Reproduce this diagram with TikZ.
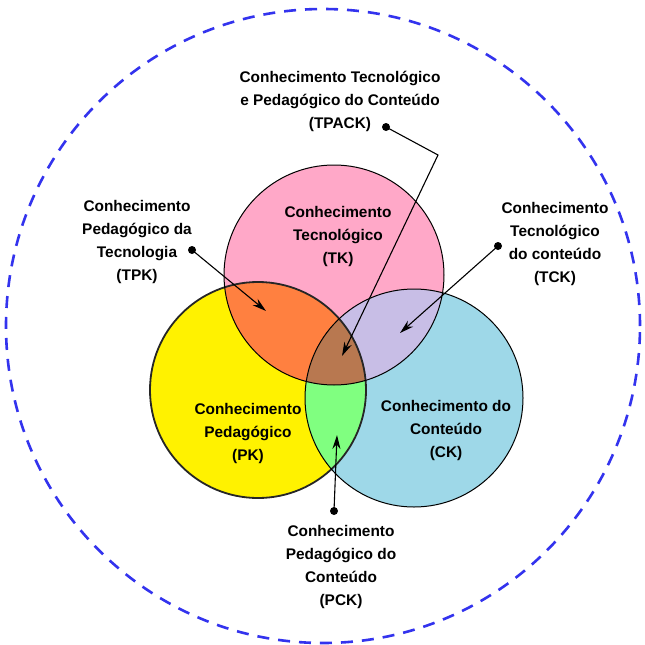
\documentclass[tikz,border=0pt]{standalone}
\usepackage{fontspec}
\setmainfont{Liberation Sans}
\usetikzlibrary{arrows.meta}
\definecolor{tkc}{HTML}{FFA8C8}
\definecolor{pkc}{HTML}{FFF200}
\definecolor{ckc}{HTML}{9ED8E8}
\definecolor{tpkc}{HTML}{FF8040}
\definecolor{tckc}{HTML}{C8BEE6}
\definecolor{pckc}{HTML}{80FF80}
\definecolor{allc}{HTML}{B87850}
\definecolor{dashc}{HTML}{3333EE}
\begin{document}
\begin{tikzpicture}[x=1pt,y=-1pt,
  lbl/.style={font=\fontsize{15.4}{23}\selectfont\bfseries, align=center, inner sep=0pt},
  ring/.style={circle, draw=black, line width=1pt, inner sep=0pt},
  dotnode/.style={circle, fill=black, inner sep=0pt, minimum size=8pt},
  arr/.style={line width=1.1pt, -{Stealth[length=14pt,width=8pt]}}]
\useasboundingbox (0,0) rectangle (645,645);
\fill[white] (0,0) rectangle (645,645);
% base fills
\fill[tkc] (334,275) circle[radius=110pt];
\fill[pkc] (258,390) circle[radius=108pt];
\fill[ckc] (414,398) circle[radius=109pt];
\begin{scope}
  \clip (334,275) circle[radius=110pt];
  \fill[tpkc] (258,390) circle[radius=108pt];
  \fill[tckc] (414,398) circle[radius=109pt];
\end{scope}
\begin{scope}
  \clip (258,390) circle[radius=108pt];
  \fill[pckc] (414,398) circle[radius=109pt];
\end{scope}
\begin{scope}
  \clip (334,275) circle[radius=110pt];
  \clip (258,390) circle[radius=108pt];
  \fill[allc] (414,398) circle[radius=109pt];
\end{scope}
% outlines
\node[ring, minimum size=216pt, line width=1.8pt, draw=black!85] (pk) at (258,390) {};
\node[ring, minimum size=220pt] (tk) at (334,275) {};
\node[ring, minimum size=218pt] (ck) at (414,398) {};
\node[circle, draw=dashc, line width=2.6pt, dash pattern=on 12pt off 9pt, minimum size=634pt, inner sep=0pt] (outer) at (323,326) {};
% circle labels
\node[lbl] (tktxt) at (338,237) {Conhecimento\\Tecnológico\\(TK)};
\node[lbl] (pktxt) at (248,434) {Conhecimento\\Pedagógico\\(PK)};
\node[lbl] (cktxt) at (446,431) {Conhecimento do\\Conteúdo\\(CK)};
% outside labels
\node[lbl] (tpacktxt) at (340,101) {Conhecimento Tecnológico\\e Pedagógico do Conteúdo\\(TPACK)};
\node[lbl] (tpktxt) at (137,242.5) {Conhecimento\\Pedagógico da\\Tecnologia\\(TPK)};
\node[lbl] (tcktxt) at (555,244) {Conhecimento\\Tecnológico\\do conteúdo\\(TCK)};
\node[lbl] (pcktxt) at (341,567) {Conhecimento\\Pedagógico do\\Conteúdo\\(PCK)};
% dots
\node[dotnode] (tpackdot) at (386,127) {};
\node[dotnode] (tpkdot) at (192,250) {};
\node[dotnode] (tckdot) at (498,246) {};
\node[dotnode] (pckdot) at (334,511) {};
% coordinates
\coordinate (bend) at (438,155);
\coordinate (tpacktip) at (342,356);
\coordinate (tpktip) at (266,311);
\coordinate (tcktip) at (400,333);
\coordinate (pcktip) at (337,435);
% connectors
\draw[arr] (tpackdot.center) -- (bend) -- (tpacktip);
\draw[arr] (tpkdot.center) -- (tpktip);
\draw[arr] (tckdot.center) -- (tcktip);
\draw[arr] (pckdot.center) -- (pcktip);
\end{tikzpicture}
\end{document}
